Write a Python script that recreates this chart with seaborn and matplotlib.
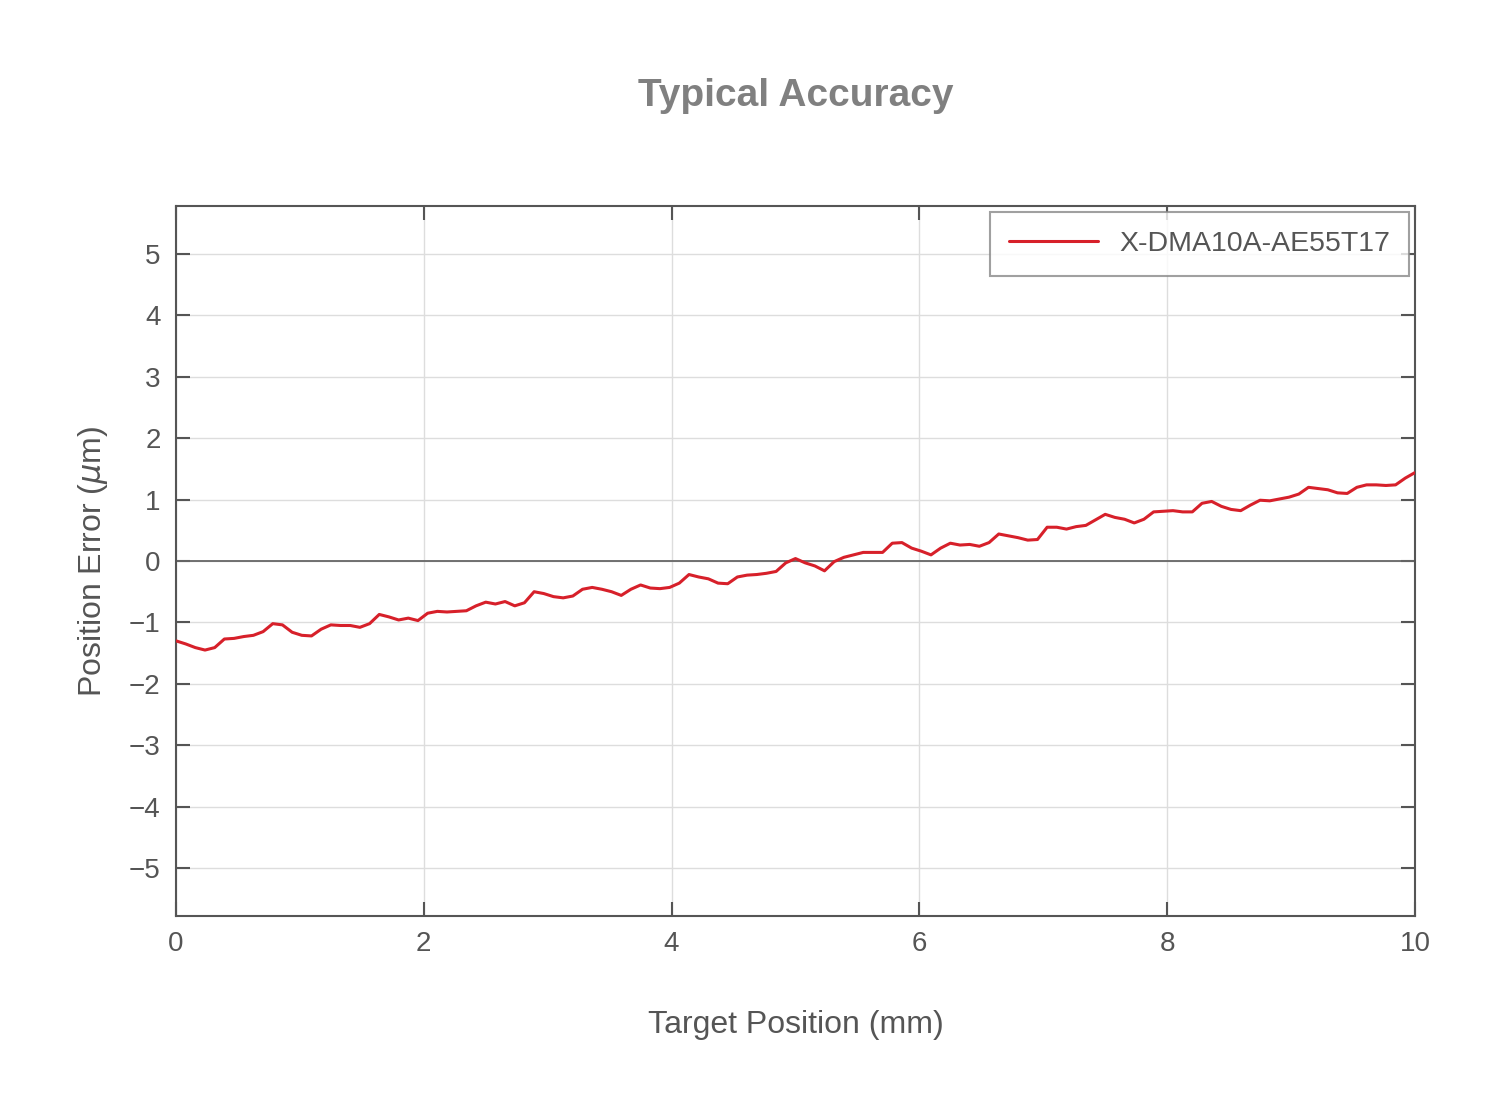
import numpy as np
import pandas as pd
import matplotlib
matplotlib.use("Agg")
import matplotlib.pyplot as plt
import seaborn as sns

# target positions (mm), 129 samples over 0..10
position = np.linspace(0, 10, 129)

# position error (um)
error = [
    -1.30, -1.35, -1.41, -1.45, -1.41, -1.27, -1.26, -1.23, -1.21, -1.15,
    -1.02, -1.04, -1.16, -1.21, -1.22, -1.11, -1.04, -1.05, -1.05, -1.08,
    -1.02, -0.87, -0.91, -0.96, -0.93, -0.97, -0.85, -0.82, -0.83, -0.82,
    -0.81, -0.73, -0.67,
    -0.70, -0.66, -0.73, -0.68, -0.50, -0.53, -0.58, -0.60, -0.57,
    -0.46, -0.43, -0.46, -0.50, -0.56, -0.46, -0.39, -0.44, -0.45, -0.43,
    -0.36, -0.22, -0.26, -0.29, -0.36, -0.37, -0.26, -0.23, -0.22, -0.20,
    -0.17, -0.03, 0.04,
    -0.03, -0.08, -0.16, -0.01, 0.06, 0.10, 0.14, 0.14, 0.14,
    0.29, 0.30, 0.21, 0.16, 0.10, 0.21, 0.29, 0.26, 0.27, 0.24,
    0.30, 0.44, 0.41, 0.38, 0.34, 0.35, 0.55, 0.55, 0.52, 0.56,
    0.58, 0.67, 0.76,
    0.71, 0.68, 0.62, 0.68, 0.80, 0.81, 0.82, 0.80, 0.80,
    0.94, 0.97, 0.89, 0.84, 0.82, 0.91, 0.99, 0.98, 1.01, 1.04,
    1.09, 1.20, 1.18, 1.16, 1.11, 1.10, 1.20, 1.24, 1.24, 1.23,
    1.24, 1.35, 1.44,
]

label = "X-DMA10A-AE55T17"

df = pd.DataFrame({"Target Position (mm)": position, "error": error, "stage": label})

sns.set_style("white")
plt.rcParams["font.family"] = ["Liberation Sans", "DejaVu Sans"]
plt.rcParams["mathtext.fontset"] = "dejavusans"

dark = "#555555"

fig = plt.figure(figsize=(15.08, 11.15), dpi=100)
ax = fig.add_axes([0.1167, 0.1785, 0.8216, 0.6367])

ax.grid(True, color="#dddddd", linewidth=1)
ax.axhline(0, color="#666666", linewidth=1.3, zorder=1)
sns.lineplot(data=df, x="Target Position (mm)", y="error", hue="stage",
             palette=["#d7202a"], linewidth=2.2, ax=ax, zorder=3)

ax.set_xlim(0, 10)
ax.set_ylim(-5.78, 5.78)
ax.set_xticks([0, 2, 4, 6, 8, 10])
ax.set_yticks([-5, -4, -3, -2, -1, 0, 1, 2, 3, 4, 5])
ax.set_yticklabels(["\u22125", "\u22124", "\u22123", "\u22122", "\u22121", "0", "1", "2", "3", "4", "5"])

ax.tick_params(direction="in", length=10, width=1.5, colors=dark, labelsize=20,
               top=True, right=True, bottom=True, left=True, pad=11)
for s in ax.spines.values():
    s.set_color(dark)
    s.set_linewidth(1.5)

ax.set_xlabel("Target Position (mm)", fontsize=23, color=dark, labelpad=38)
ax.set_ylabel("Position Error ($\\mu$m)", fontsize=23, color=dark, labelpad=14)
ax.set_title("Typical Accuracy", fontsize=28, fontweight="bold", color="#808080", pad=72)

leg = ax.legend(loc="upper right", fontsize=20.5, frameon=True, fancybox=False,
                handlelength=3.1, borderpad=0.68, handletextpad=0.75,
                borderaxespad=0.2)
leg.get_frame().set_edgecolor("#888888")
leg.get_frame().set_linewidth(1.5)
for t in leg.get_texts():
    t.set_color(dark)

fig.savefig("out.png", dpi=100, facecolor="white")
